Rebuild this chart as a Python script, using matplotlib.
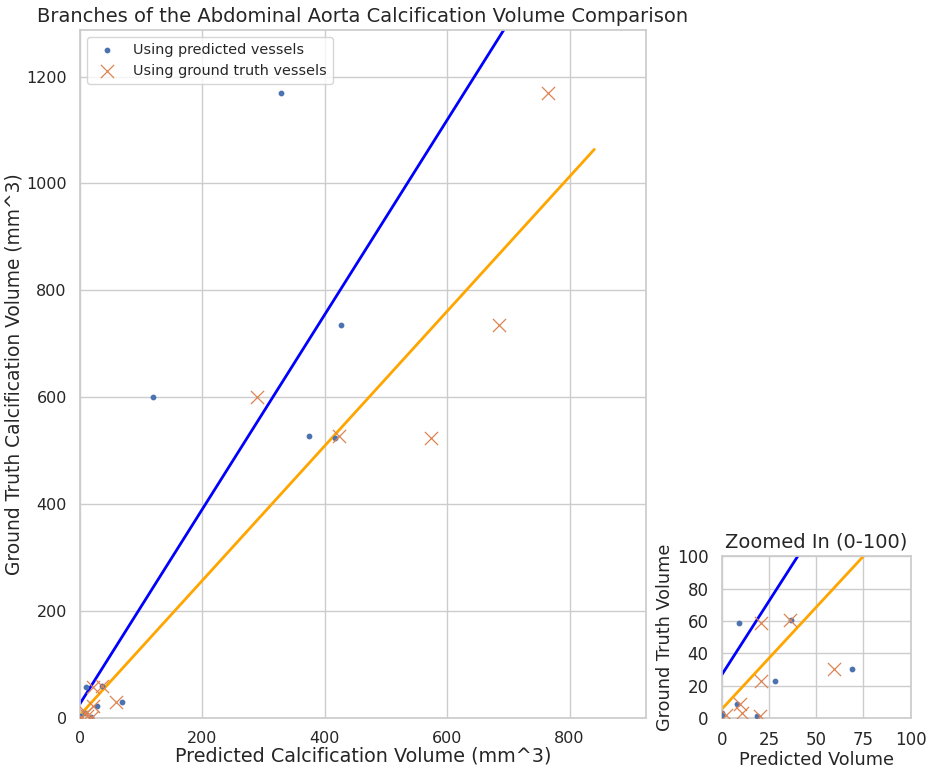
import matplotlib
matplotlib.use("Agg")
from matplotlib import pyplot as plt
import seaborn as sns
import numpy as np

# ground truth volumes and predictions (mm^3)
gt_volume = [1170, 600, 735, 527, 524, 60.5, 58.5, 30.4, 23, 8.5, 1.2, 3.5, 2]
pred_with_pred_vessels = [328, 119, 426, 374, 417, 36.5, 9, 69, 28, 8, 18.4, 0.3, 0.3]
pred_with_gt_vessels = [764, 290, 684, 424, 574, 36, 21, 59.5, 21, 9.5, 20, 10.7, 2]

# fitted lines (slope, intercept)
fit_pred_vessels = (1.82, 26.8)
fit_gt_vessels = (1.259, 5.6)

sns.set_theme(style="whitegrid")
plt.rcParams['font.family'] = ['DejaVu Sans']

fig = plt.figure(figsize=(9.27, 7.69), dpi=100)
ax = fig.add_axes([0.0863, 0.0663, 0.6103, 0.8947])
ax_in = fig.add_axes([0.7786, 0.0660, 0.2038, 0.2107])

x_max = max(pred_with_gt_vessels) * 1.1
line_x = np.array([0, x_max])

for a in (ax, ax_in):
    a.scatter(pred_with_pred_vessels, gt_volume, s=10, color='#4c72b0',
              label='Using predicted vessels', zorder=3)
    a.scatter(pred_with_gt_vessels, gt_volume, s=90, marker='x', linewidths=0.9,
              color='#dd8452', label='Using ground truth vessels', zorder=3)
    a.plot(line_x, fit_pred_vessels[0] * line_x + fit_pred_vessels[1], color='blue', lw=2)
    a.plot(line_x, fit_gt_vessels[0] * line_x + fit_gt_vessels[1], color='orange', lw=2)

ax.set_xlim(0, x_max * 1.1)
ax.set_ylim(0, max(gt_volume) * 1.1)
ax.set_xticks([0, 200, 400, 600, 800])
ax.set_yticks([0, 200, 400, 600, 800, 1000, 1200])
ax.tick_params(labelsize=11.5)
ax.set_xlabel("Predicted Calcification Volume (mm^3)", fontsize=13.8, labelpad=0)
ax.set_ylabel("Ground Truth Calcification Volume (mm^3)", fontsize=13.4, labelpad=2)
ax.set_title("Branches of the Abdominal Aorta Calcification Volume Comparison", fontsize=14)
ax.legend(loc='upper left', fontsize=10.4)

ax_in.set_xlim(0, 100)
ax_in.set_ylim(0, 100)
ax_in.set_xticks([0, 25, 50, 75, 100])
ax_in.set_yticks([0, 20, 40, 60, 80, 100])
ax_in.tick_params(labelsize=12)
ax_in.set_xlabel("Predicted Volume", fontsize=12.7, labelpad=1)
ax_in.set_ylabel("Ground Truth Volume", fontsize=12.7, labelpad=2)
ax_in.set_title("Zoomed In (0-100)", fontsize=14)

for a in (ax, ax_in):
    for s in a.spines.values():
        s.set_color('#cccccc')

plt.savefig('out.png', dpi=100)
